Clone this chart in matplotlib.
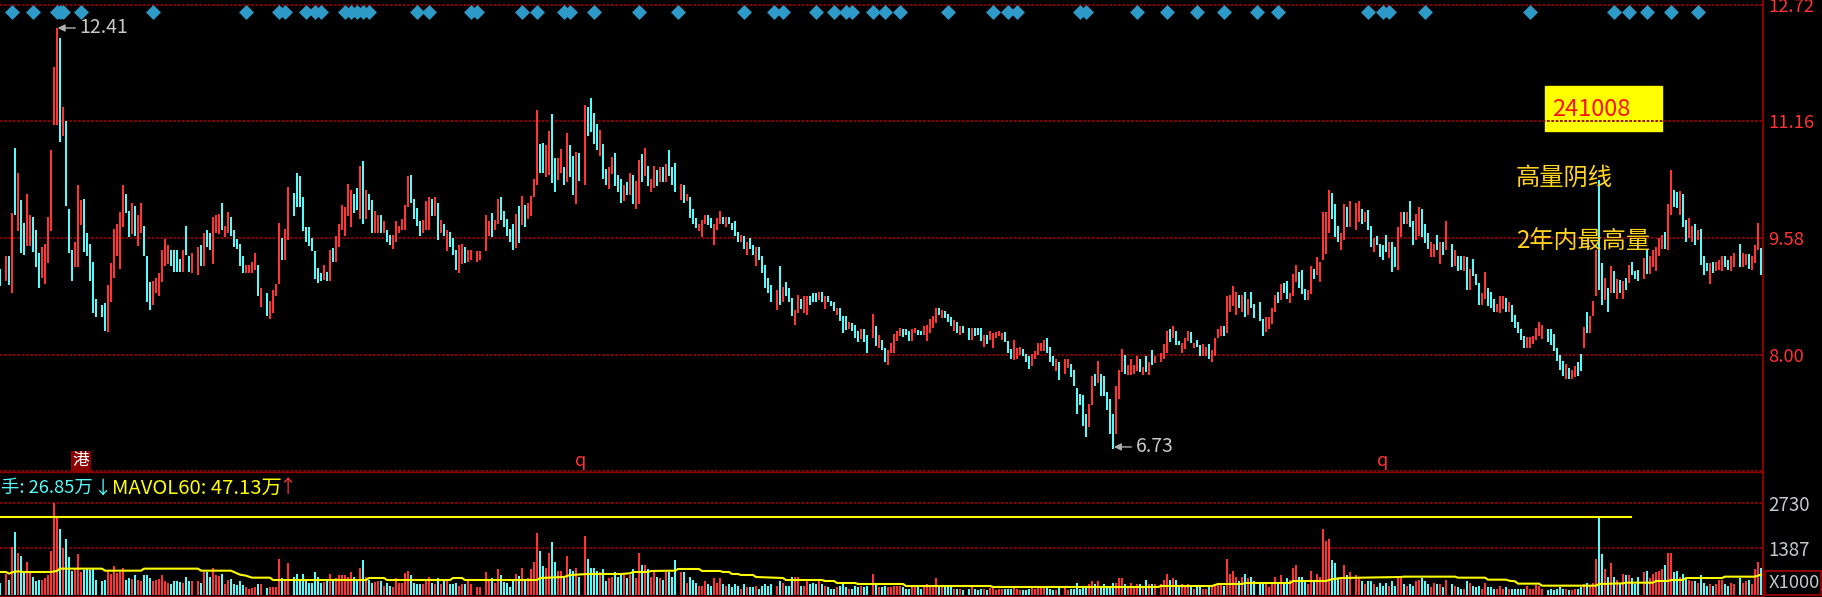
import numpy as np
import matplotlib
matplotlib.use("Agg")
import matplotlib.pyplot as plt

plt.rcParams['font.family'] = ['Noto Sans CJK SC', 'DejaVu Sans']

W, H = 1822, 597
RED = '#FF3333'
CYAN = '#54FCFC'
DARK = '#8B0000'
GRID = '#8F0000'

# one row = 10 bars, None = no bar drawn in that slot
highs = [
 9.16,None,9.33,9.33,9.92,10.79,10.46,10.09,9.78,10.17,
 9.89,9.86,9.69,9.38,9.45,9.50,9.86,10.77,11.89,12.41,
 12.28,11.35,11.15,9.97,9.41,9.53,10.29,10.09,10.10,9.65,
 9.50,9.26,8.76,None,8.68,8.70,8.94,9.24,9.70,9.77,
 9.93,10.29,10.17,9.94,10.05,10.01,9.89,10.05,9.74,9.34,
 8.98,9.00,9.04,9.10,9.41,9.57,9.49,9.41,9.42,9.42,
 9.30,9.41,9.74,9.34,9.37,None,9.46,9.49,9.65,9.69,
 9.65,9.86,9.89,9.90,10.05,9.74,9.93,9.86,9.69,9.57,
 9.50,9.34,9.22,9.22,9.26,9.37,9.22,8.90,None,8.84,
 8.73,8.88,8.96,9.78,9.58,9.70,10.26,None,10.18,10.45,
 10.41,10.13,9.73,9.73,9.58,9.40,9.17,9.10,9.22,9.12,
 9.41,9.44,9.61,9.77,10.02,9.99,10.30,10.23,10.17,10.25,
 10.55,10.61,10.22,10.17,10.09,9.94,9.89,9.89,9.81,9.69,
 9.62,9.62,9.81,9.74,9.84,10.02,10.41,10.43,10.10,9.98,
 9.81,9.82,10.07,10.13,10.10,10.13,10.05,9.82,9.77,9.69,
 9.66,9.58,9.42,9.49,9.50,9.45,9.41,9.41,None,9.40,
 9.40,None,9.89,9.81,9.92,9.82,10.10,10.13,9.94,9.84,
 9.70,9.76,9.90,10.01,10.14,10.02,10.05,10.14,10.38,11.30,
 10.85,10.86,10.83,11.02,11.25,10.66,10.65,10.78,10.54,10.99,
 10.83,10.68,10.74,10.73,None,11.37,11.34,11.47,11.27,11.11,
 11.03,10.85,10.51,10.53,10.67,10.73,10.43,10.37,10.29,10.33,
 10.45,10.43,10.35,10.63,10.71,10.79,10.55,10.37,10.55,10.49,
 10.53,10.53,10.57,10.77,10.53,10.59,None,10.30,10.29,10.17,
 10.13,9.97,9.85,9.77,9.82,9.89,9.89,9.85,9.77,9.85,
 9.94,9.86,9.86,9.86,9.78,9.81,9.66,9.62,9.61,9.53,
 9.58,9.49,9.46,9.46,9.33,9.22,9.04,8.94,None,8.88,
 9.20,8.92,8.98,8.90,8.77,8.61,8.81,8.76,8.79,8.80,
 8.80,8.83,8.83,8.85,8.85,8.79,8.80,8.73,8.72,8.64,
 8.64,8.53,8.53,8.44,8.43,8.41,8.32,8.35,8.35,8.27,
 None,8.55,8.39,8.27,8.20,8.10,8.07,8.16,8.28,8.33,
 8.36,8.35,8.35,8.32,8.35,8.36,8.34,8.32,8.39,8.41,
 8.49,8.53,8.64,8.64,8.61,8.59,8.55,8.51,8.47,8.44,
 8.39,8.39,None,8.36,8.36,8.36,8.36,8.36,8.27,8.27,
 8.32,8.29,8.31,8.32,8.30,8.31,8.19,8.08,8.20,8.10,
 8.11,8.08,8.02,7.98,8.02,8.05,8.16,8.16,8.20,8.23,
 8.11,7.99,7.94,7.90,None,7.95,7.94,7.88,7.80,7.55,
 7.47,7.46,7.21,7.34,7.71,7.74,7.92,7.75,7.72,7.50,
 7.41,7.21,7.58,7.80,8.08,8.00,7.86,7.95,7.86,7.99,
 7.95,7.84,7.99,7.90,8.07,7.99,None,8.03,8.15,8.32,
 8.35,8.39,8.32,8.19,8.16,8.23,8.32,8.31,8.16,8.20,
 8.14,8.15,8.11,8.15,8.07,8.23,8.35,8.39,8.39,8.80,
 8.81,8.93,8.85,8.81,8.81,8.85,8.76,8.85,8.69,None,
 8.72,8.49,8.51,8.51,8.64,8.81,8.85,8.96,8.97,9.00,
 8.84,9.09,9.22,9.12,9.14,8.89,8.88,9.20,9.16,9.32,
 9.26,9.93,9.93,10.22,10.19,10.03,9.74,9.65,10.03,9.99,
 10.07,None,10.05,10.07,9.97,9.93,9.95,9.74,9.58,9.61,
 9.50,9.49,9.62,9.53,9.53,9.45,9.73,9.93,9.93,9.93,
 10.07,9.81,9.90,9.99,9.97,9.77,9.65,9.53,9.50,9.62,
 9.53,9.53,9.81,None,9.50,9.42,9.34,9.34,9.33,9.32,
 9.16,9.29,9.09,8.97,8.84,9.12,8.91,8.85,8.75,8.69,
 8.80,8.80,8.77,8.72,8.67,8.54,8.44,8.35,8.25,8.24,
 8.24,8.25,8.36,8.44,8.40,None,8.35,8.35,8.28,8.10,
 8.00,7.92,7.88,7.82,7.80,7.85,7.90,8.02,8.38,8.58,
 8.53,8.73,9.42,10.36,9.24,9.04,8.91,9.20,9.13,9.03,
 9.01,9.00,9.04,9.21,9.26,9.13,9.14,None,9.31,9.42,
 9.33,9.41,9.45,9.58,9.62,9.66,10.03,10.50,10.23,10.20,
 10.21,10.17,9.82,9.85,9.74,9.77,9.69,9.70,9.33,9.24,
 9.24,9.25,9.26,9.28,9.34,9.34,9.28,9.33,9.37,None,
 9.50,9.37,9.36,9.36,9.34,9.49,9.78,9.44,
]

lows = [
 8.93,None,9.00,8.95,8.83,9.89,9.67,9.37,9.35,9.47,
 9.47,9.39,9.19,8.91,9.04,8.96,9.24,9.67,11.10,11.10,
 10.87,10.95,10.01,9.37,9.00,9.19,9.19,9.75,9.39,9.33,
 9.00,8.56,8.51,None,8.51,8.32,8.31,8.71,9.04,9.33,
 9.16,9.73,9.91,9.59,9.63,9.61,9.47,9.65,9.33,8.71,
 8.60,8.67,8.83,8.80,8.99,9.20,9.23,9.20,9.12,9.12,
 9.12,9.12,9.35,9.12,9.11,None,9.08,9.20,9.20,9.45,
 9.41,9.23,9.65,9.63,9.69,9.59,9.65,9.61,9.45,9.43,
 9.20,9.11,9.11,9.11,9.11,9.15,8.80,8.65,None,8.52,
 8.48,8.56,8.80,8.96,9.28,9.28,9.55,None,9.88,9.99,
 9.99,9.67,9.52,9.47,9.40,9.03,8.97,9.00,9.01,9.00,
 9.00,9.25,9.25,9.45,9.69,9.61,9.88,9.72,9.92,9.95,
 9.84,9.77,9.83,9.96,9.65,9.65,9.65,9.64,9.65,9.52,
 9.48,9.43,9.52,9.65,9.68,9.69,10.00,10.05,9.84,9.74,
 9.60,9.64,9.69,9.69,9.88,9.88,9.55,9.64,9.60,9.40,
 9.46,9.35,9.15,9.11,9.23,9.24,9.25,9.28,None,9.25,
 9.28,None,9.40,9.61,9.59,9.68,9.77,9.82,9.72,9.61,
 9.52,9.41,9.44,9.51,9.75,9.72,9.84,9.88,10.13,10.29,
 10.45,10.46,10.40,10.43,10.32,10.20,10.36,10.46,10.29,10.33,
 10.40,10.16,10.04,10.34,None,10.29,10.96,11.01,10.84,10.76,
 10.69,10.37,10.29,10.24,10.44,10.28,10.20,10.05,10.08,10.16,
 10.16,10.04,9.97,10.04,10.33,10.41,10.28,10.20,10.25,10.28,
 10.33,10.33,10.33,10.41,10.29,10.20,None,10.09,10.05,10.08,
 9.85,9.77,9.71,9.67,9.59,9.77,9.75,9.71,9.49,9.69,
 9.77,9.77,9.73,9.77,9.69,9.61,9.53,9.53,9.43,9.35,
 9.43,9.35,9.20,9.28,9.11,8.91,8.83,8.71,None,8.60,
 8.67,8.71,8.79,8.71,8.52,8.40,8.56,8.62,8.56,8.54,
 8.68,8.71,8.71,8.74,8.71,8.62,8.72,8.66,8.59,8.54,
 8.46,8.30,8.34,8.35,8.32,8.23,8.18,8.21,8.18,8.03,
 None,8.23,8.12,8.10,8.07,7.91,7.86,8.03,8.03,8.19,
 8.26,8.24,8.27,8.19,8.19,8.29,8.27,8.27,8.27,8.19,
 8.30,8.37,8.43,8.54,8.50,8.50,8.44,8.39,8.32,8.30,
 8.27,8.29,None,8.20,8.20,8.25,8.27,8.19,8.11,8.15,
 8.20,8.10,8.23,8.26,8.20,8.18,8.03,7.94,7.93,7.94,
 8.00,7.98,7.91,7.81,7.85,7.94,8.00,8.05,8.06,8.03,
 7.91,7.85,7.79,7.66,None,7.74,7.82,7.70,7.58,7.20,
 7.32,7.04,6.90,7.03,7.32,7.58,7.62,7.45,7.45,7.26,
 6.93,6.73,6.93,7.41,7.77,7.74,7.73,7.73,7.75,7.79,
 7.77,7.73,7.77,7.73,7.86,7.89,None,7.90,7.95,8.03,
 8.17,8.23,8.13,8.13,8.03,8.08,8.19,8.16,8.09,8.11,
 7.99,7.98,7.98,7.94,7.90,7.99,8.23,8.26,8.26,8.30,
 8.58,8.66,8.54,8.64,8.58,8.51,8.54,8.64,8.50,None,
 8.46,8.26,8.31,8.35,8.42,8.58,8.70,8.74,8.84,8.76,
 8.70,8.80,8.99,8.91,8.82,8.74,8.74,8.82,9.03,9.08,
 8.99,9.28,9.36,9.64,9.84,9.59,9.53,9.41,9.55,9.72,
 9.73,None,9.68,9.80,9.76,9.80,9.69,9.45,9.39,9.49,
 9.32,9.28,9.39,9.31,9.12,9.19,9.15,9.59,9.76,9.77,
 9.73,9.49,9.55,9.61,9.59,9.51,9.43,9.32,9.32,9.41,
 9.23,9.35,9.41,None,9.19,9.20,9.13,9.15,9.13,8.88,
 8.88,9.06,8.94,8.67,8.67,8.76,8.66,8.63,8.58,8.58,
 8.56,8.62,8.58,8.58,8.44,8.36,8.29,8.20,8.10,8.10,
 8.09,8.15,8.20,8.26,8.22,None,8.17,8.14,8.05,7.92,
 7.80,7.72,7.68,7.68,7.68,7.70,7.72,7.78,8.10,8.30,
 8.30,8.52,8.80,8.88,8.67,8.74,8.58,8.84,8.83,8.76,
 8.83,8.76,8.88,8.97,9.08,9.03,9.00,None,9.02,9.09,
 9.09,9.19,9.13,9.34,9.43,9.43,9.42,9.89,9.99,9.98,
 9.89,9.73,9.52,9.58,9.53,9.49,9.55,9.21,9.08,9.13,
 8.96,9.11,9.13,9.15,9.13,9.19,9.15,9.13,9.19,None,
 9.19,9.19,9.22,9.16,9.15,9.24,9.41,9.08,
]

# r = up bar, c = down bar, - = empty slot
bar_kinds = "".join([
 "c-rcrcrccr","rcccrrrrrr","crcccrrrcc","ccc-ccrrrr","rrccrcrrcc","crrrrrrccc",
 "crccr-rcrc","crrrcrrccc","ccrrrrcr-c","rrrrcrr-cc","ccccccccrc","rcrrrrrrcc",
 "rcrccrrcrc","crrrrrrccc","crrrcrcrcr","cccrrcrr-r","r-rrcrrccc","ccrcrcrrrr",
 "ccrrccrrcr","ccrc-rcccc","rccrrcccrc","rcrrcrcrrc","rcrccc-rcr","cccrrrccrr",
 "rcrccccrcr","ccrccccc-r","crcccrrcrr","cccrcrcccr","cccrcccrcc","-rcrccrrrr",
 "rcccrrccrr","rrrcrcccrc","rc-crcccrc","rrrrrcccrr","rcccrrrrrc","ccrc-rrccc",
 "cccrrcrccc","ccrrrcrrrr","crcrcr-rrr","crccrrrcrc","crrcrrrrcr","rrrcrcrcc-",
 "ccrrrrcrcc","rrrcccrrcr","rrrrcccrrc","r-rrcrccrc","cccrccrrcr","ccrrcccrrc",
 "rcr-crccrc","rcccrrcccr","rrcrcccccr","rrrrr-cccc","ccrcrrccrc","rrrccrcrcr",
 "crcrccc-rc","rrrrrcrrcc","rccrrcrccc","rcrrrccrr-","crrcrrrc",
])

volumes = [
 345,None,612,444,1411,1855,1234,1155,720,977,
 711,523,424,444,444,503,592,1303,2714,2290,
 1954,1382,1658,1125,711,790,1214,691,740,760,
 740,760,434,None,424,444,720,612,859,661,
 691,790,444,493,464,592,444,424,592,592,
 493,424,444,464,592,424,345,326,415,415,
 375,345,523,415,415,None,415,345,691,691,
 523,790,592,563,622,326,444,464,316,296,
 415,296,237,188,217,247,316,326,None,207,
 247,237,237,1066,503,444,948,None,523,622,
 474,622,464,345,345,681,523,345,395,415,
 612,444,493,592,592,592,523,681,523,444,
 799,1036,523,444,365,395,424,415,266,345,
 276,247,503,345,365,642,711,592,345,336,
 336,326,415,533,365,326,503,326,415,415,
 316,326,345,276,316,326,444,326,None,240,
 237,None,671,464,493,365,760,592,395,365,
 247,444,622,563,790,444,493,760,977,1826,
 1303,859,799,1234,1569,977,711,711,493,1155,
 770,711,799,543,None,1747,1066,799,799,711,
 691,760,424,493,523,681,543,592,592,503,
 592,770,503,1244,888,888,770,533,681,533,
 503,444,681,681,533,1036,None,681,681,355,
 533,444,355,266,266,415,326,266,503,355,
 503,326,266,326,237,326,266,178,326,237,
 237,237,266,178,266,326,266,326,None,266,
 415,355,266,266,533,533,533,266,266,415,
 326,355,326,415,326,266,237,178,178,237,
 266,326,237,178,178,266,237,266,237,266,
 None,622,296,237,237,266,237,237,266,266,
 266,237,178,178,237,237,237,178,237,326,
 266,237,503,237,237,237,237,237,178,178,
 178,148,None,178,237,178,148,178,178,148,
 207,237,148,178,178,178,178,178,207,178,
 148,148,148,178,207,178,207,207,207,237,
 178,148,148,207,None,207,148,178,178,355,
 178,237,207,326,415,326,415,237,326,207,
 207,355,355,503,503,326,207,355,207,326,
 326,207,444,326,326,326,None,326,444,622,
 444,503,444,237,326,237,326,237,178,237,
 237,178,178,237,237,326,355,326,266,1066,
 622,711,533,415,533,622,503,533,415,None,
 326,326,326,237,355,533,355,592,326,503,
 444,799,888,533,533,415,326,711,385,622,
 533,1954,1599,1658,1036,948,503,503,888,592,
 681,None,592,533,415,326,415,415,326,237,
 355,266,355,266,415,266,503,503,326,266,
 326,266,415,444,503,415,326,237,355,326,
 326,237,444,None,326,276,237,178,178,415,
 355,266,237,266,178,355,237,237,178,178,
 266,178,237,178,178,178,178,178,178,266,
 178,178,296,276,178,None,148,178,148,178,
 237,178,178,148,148,178,178,237,326,355,
 296,355,1066,2290,1214,770,533,948,533,444,
 326,622,592,592,503,326,533,None,681,711,
 503,622,681,711,770,888,1244,1244,681,711,
 533,622,474,444,415,415,355,592,355,266,
 326,266,326,444,444,326,266,355,326,None,
 503,355,415,444,326,770,977,799,
]

# 60 day volume average, read as corner points of the line
mavol_bars = [0,2,3,4,6,8,17,19,20,34,35,47,48,66,67,77,80,82,84,90,91,122,123,128,129,150,151,154,155,179,180,188,190,196,
              207,210,211,216,217,225,226,233,234,240,241,243,244,246,247,251,252,261,262,274,275,278,279,285,286,301,302,330,331,
              386,387,404,405,406,414,415,430,431,442,443,446,447,467,468,
              485,486,495,496,502,503,505,506,513,514,532,533,541,542,551,552,556,557,561,562,574,575,585,587]
mavol_vals = [681,681,632,671,701,681,681,711,780,780,720,720,780,780,720,720,602,572,513,513,444,444,503,503,444,444,503,503,444,444,503,533,592,622,
              622,642,681,681,711,720,770,770,711,711,681,681,622,622,592,592,533,503,444,444,415,415,355,355,326,326,266,266,237,
              237,266,266,296,326,326,355,355,415,415,444,493,503,533,543,
              543,513,513,454,454,424,405,336,336,276,276,326,345,365,365,415,415,444,444,503,503,543,543,602]

signal_bars = [4,11,19,20,21,27,51,82,93,95,102,105,107,115,117,119,121,123,139,143,157,159,174,179,188,190,198,213,226,248,258,261,272,278,282,284,291,295,300,
               316,331,336,339,360,362,379,389,399,408,419,426,456,461,463,475,510,538,543,549,557,566]
signal_level = 12.63

price_ticks = [12.72, 11.16, 9.58, 8.00]
vol_ticks = [2730, 1387]
max_vol_level = 2317
max_vol_end = 543.7

DOTS = (0, (1.5, 0.9))


def px(x, y):
  return x / W, 1 - y / H


x = np.arange(len(highs))
hi = np.array(highs, dtype=float)
lo = np.array(lows, dtype=float)
vol = np.array(volumes, dtype=float)
colors = [RED if k == 'r' else CYAN for k in bar_kinds]

fig = plt.figure(figsize=(W / 100, H / 100), dpi=100, facecolor='black')
ax = fig.add_axes([0, 1 - 472 / H, 1763 / W, 472 / H], facecolor='black')
ax2 = fig.add_axes([0, 0, 1763 / W, 125 / H], facecolor='black')

# price pane
ax.set_xlim(0, 1763 / 3)
ax.set_ylim(12.72 - 467 / 74.15, 12.72 + 5 / 74.15)
ax.bar(x, hi - lo, bottom=lo, width=2 / 3, color=colors, antialiased=False, zorder=3)
ax.scatter(signal_bars, [signal_level] * len(signal_bars), marker='D', s=58, color='#2E9AC8', linewidths=0, zorder=3)
for t in price_ticks:
  ax.axhline(t, color=GRID, lw=1.3, ls=DOTS, zorder=2)
ax.axhline(ax.get_ylim()[0] + 0.012, color=GRID, lw=1.3, ls=DOTS, zorder=2)
ax.set_yticks(price_ticks)
ax.set_yticklabels(['%.2f' % t for t in price_ticks], color=RED, fontsize=13.3)
ax.set_xticks([])
ax.yaxis.tick_right()
ax.tick_params(axis='y', length=0, pad=4)

# volume pane
ax2.set_xlim(0, 1763 / 3)
ax2.set_ylim(-2 * 29.6, 123 * 29.6)
ax2.bar(x, vol, width=2 / 3, color=colors, antialiased=False, zorder=3)
ax2.plot(mavol_bars, mavol_vals, color='#FFFF00', lw=1.5, zorder=4)
ax2.plot([0, max_vol_end], [max_vol_level, max_vol_level], color='#FFFF00', lw=1.5, zorder=4)
for t in vol_ticks:
  ax2.axhline(t, color=GRID, lw=1.3, ls=DOTS, zorder=2)
ax2.set_yticks(vol_ticks)
ax2.set_yticklabels([str(t) for t in vol_ticks], color='#C0C8D0', fontsize=13.5)
ax2.set_xticks([])
ax2.yaxis.tick_right()
ax2.tick_params(axis='y', length=0, pad=4)

for a in (ax, ax2):
  for side, sp in a.spines.items():
    sp.set_color(DARK)
    sp.set_linewidth(1.4)
    sp.set_visible(side == 'right')
ax2.spines['top'].set_visible(True)
ax2.spines['top'].set_linewidth(1.0)
ax2.spines['bottom'].set_visible(True)

# high and low marks
ax.annotate('12.41', xy=(19.2, 12.41), xytext=(26.5, 12.41), color='#C8C8C8', fontsize=14, va='center', zorder=5,
            arrowprops=dict(arrowstyle='-|>,head_width=0.15,head_length=0.3', color='#B0B0B0', lw=1, shrinkA=1, shrinkB=0))
ax.annotate('6.73', xy=(371.3, 6.76), xytext=(378.5, 6.76), color='#C8C8C8', fontsize=14, va='center', zorder=5,
            arrowprops=dict(arrowstyle='-|>,head_width=0.15,head_length=0.3', color='#B0B0B0', lw=1, shrinkA=1, shrinkB=0))

# yellow note box, under the grid line
ax.set_zorder(2)
ax.patch.set_alpha(0)
fig.add_artist(plt.Rectangle(px(1545, 131), 117 / W, 45 / H, transform=fig.transFigure, color='#FFFF00', zorder=1.5))

kw = dict(transform=fig.transFigure, va='center', zorder=10)
fig.text(*px(1552, 110), '241008', color='#FF1010', fontsize=17, **kw)
fig.text(*px(1516, 178), '高量阴线', color='#FFD21E', fontsize=17.5, **kw)
fig.text(*px(1516, 241), '2年内最高量', color='#FFD21E', fontsize=17.4, **kw)
fig.text(*px(581, 461), 'q', color=RED, fontsize=13, ha='center', **kw)
fig.text(*px(1383, 461), 'q', color=RED, fontsize=13, ha='center', **kw)
fig.text(*px(81, 461), '港', color='white', fontsize=12, ha='center',
         bbox=dict(facecolor=DARK, edgecolor='none', pad=1.5), **kw)

# indicator header
fig.text(*px(1, 488), '手: 26.85万', color=CYAN, fontsize=13.2, **kw)
fig.text(*px(93, 488), '↓', color=CYAN, fontsize=13.2, **kw)
fig.text(*px(112, 488), 'MAVOL60: 47.13万', color='#FFFF00', fontsize=14.6, **kw)
fig.text(*px(278, 488), '↑', color=RED, fontsize=13.2, **kw)

fig.text(*px(1794, 583), 'X1000', color='#C0C8D0', fontsize=13.3, ha='center', **kw)
fig.add_artist(plt.Rectangle(px(1765, 595), 56 / W, 24 / H, transform=fig.transFigure, facecolor='none', edgecolor=DARK, lw=1.5, zorder=9))

fig.savefig('out.png', dpi=100, facecolor='black')
